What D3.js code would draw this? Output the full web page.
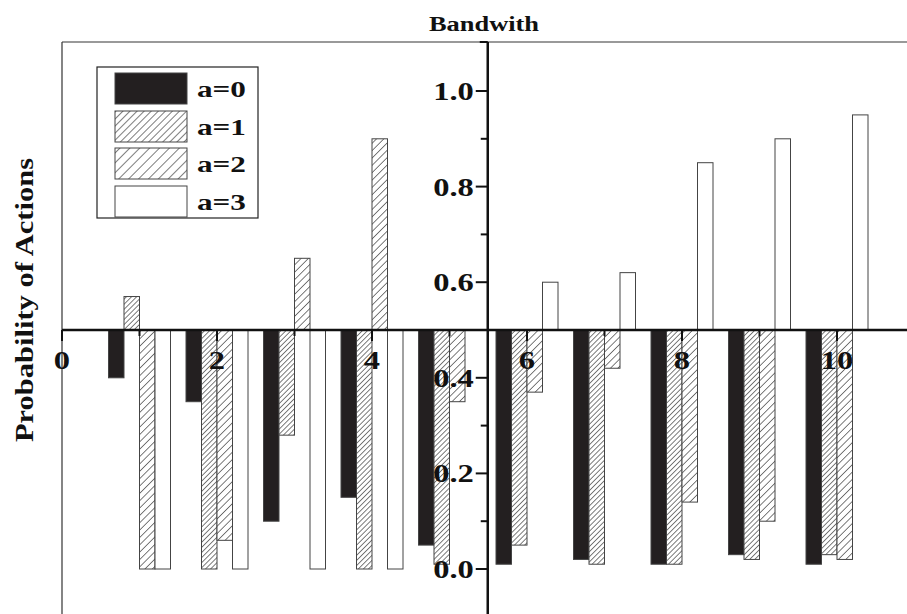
<html>
<script src='https://d3js.org/d3.v7.min.js'></script>
<head>
<style>
  body {margin:0; background:white;}
  svg {display:block; font-family:'Liberation Serif','Times New Roman',serif; font-weight:bold;}
</style>
</head>
<body>
<svg width=907 height=614></svg>
<script>
// bandwidth groups and probabilities of each action
var bandwidth = [1,2,3,4,5,6,7,8,9,10];
var a0 = [0.40,0.35,0.10,0.15,0.05,0.01,0.02,0.01,0.03,0.01];
var a1 = [0.57,0.00,0.28,0.00,0.01,0.05,0.01,0.01,0.02,0.03];
var a2 = [0.00,0.06,0.65,0.90,0.35,0.37,0.42,0.14,0.10,0.02];
var a3 = [0.00,0.00,0.00,0.00,0.50,0.60,0.62,0.85,0.90,0.95];
var actions = ["a=0","a=1","a=2","a=3"];
var series = [a0,a1,a2,a3];
var xTicks = [0,2,4,6,8,10];
var yTicks = [0.0,0.2,0.4,0.6,0.8,1.0];

var svg = d3.select("svg");

var x = d3.scaleLinear().domain([0,10]).range([62,837]);
var y = d3.scaleLinear().domain([0,1]).range([569,91]);
var base = 0.5;   // axes cross here, bars grow from it
var barW = 0.2;
var stretch = 1.25; // the original lettering is wide

//hatch patterns
var defs = svg.append("defs");
function hatch(id, gap) {
  var p = defs.append("pattern")
    .attr("id", id)
    .attr("patternUnits","userSpaceOnUse")
    .attr("width", gap).attr("height", gap)
    .attr("patternTransform","rotate(45)");
  p.append("rect").attr("width",gap).attr("height",gap).attr("fill","white");
  p.append("line").attr("x1",0).attr("y1",0).attr("x2",0).attr("y2",gap)
    .attr("stroke","#111").attr("stroke-width",1.1);
}
hatch("h1", 3.6);
hatch("h2", 5.2);
hatch("lh1", 5);
hatch("lh2", 7);
var fills = ["#231f20","url(#h1)","url(#h2)","white"];
var legendFills = ["#231f20","url(#lh1)","url(#lh2)","white"];

//frame
svg.append("line").attr("x1",62).attr("x2",907).attr("y1",42).attr("y2",42)
  .attr("stroke","#777").attr("stroke-width",1.5);
svg.append("line").attr("x1",62).attr("x2",62).attr("y1",42).attr("y2",614)
  .attr("stroke","#333").attr("stroke-width",1.2);

//bars
series.forEach(function(vals, k) {
  svg.append("g").selectAll("rect").data(vals).enter().append("rect")
    .attr("x", function(d,i) { return x(bandwidth[i] - 0.4 + k*barW); })
    .attr("width", x(barW) - x(0))
    .attr("y", function(d) { return y(Math.max(d, base)); })
    .attr("height", function(d) { return Math.abs(y(d) - y(base)); })
    .attr("fill", fills[k])
    .attr("stroke", "#444")
    .attr("stroke-width", 1);
});

//x axis through 0.5
var xaxis = svg.append("g").attr("transform","translate(0,"+y(base)+")");
xaxis.append("line").attr("x1",62).attr("x2",907).attr("y1",0).attr("y2",0)
  .attr("stroke","#111").attr("stroke-width",2.5);
xaxis.selectAll(".maj").data(xTicks).enter().append("line")
  .attr("x1",function(d){return x(d);}).attr("x2",function(d){return x(d);})
  .attr("y1",0).attr("y2",11).attr("stroke","#111").attr("stroke-width",2);
xaxis.selectAll(".min").data([1,3,5,7,9]).enter().append("line")
  .attr("x1",function(d){return x(d);}).attr("x2",function(d){return x(d);})
  .attr("y1",0).attr("y2",6).attr("stroke","#111").attr("stroke-width",2);
xaxis.selectAll("text").data(xTicks).enter().append("text")
  .attr("transform",function(d){return "translate("+x(d)+",39) scale("+stretch+",1)";})
  .attr("text-anchor","middle").attr("font-size",26).attr("fill","#111")
  .text(function(d){return d;});

//y axis at x = 5.5
var yaxis = svg.append("g").attr("transform","translate("+(x(5.5)-0.5)+",0)");
yaxis.append("line").attr("x1",0).attr("x2",0).attr("y1",42).attr("y2",614)
  .attr("stroke","#111").attr("stroke-width",2.5);
yaxis.append("line").attr("x1",-8).attr("x2",0).attr("y1",42).attr("y2",42)
  .attr("stroke","#111").attr("stroke-width",2);
yaxis.selectAll(".maj").data(yTicks).enter().append("line")
  .attr("x1",-12).attr("x2",0)
  .attr("y1",function(d){return y(d);}).attr("y2",function(d){return y(d);})
  .attr("stroke","#111").attr("stroke-width",2);
yaxis.selectAll(".min").data([0.1,0.3,0.5,0.7,0.9]).enter().append("line")
  .attr("x1",-7).attr("x2",0)
  .attr("y1",function(d){return y(d);}).attr("y2",function(d){return y(d);})
  .attr("stroke","#111").attr("stroke-width",2);
yaxis.selectAll("text").data(yTicks).enter().append("text")
  .attr("transform",function(d){return "translate(-14,"+(y(d)+9)+") scale("+stretch+",1)";})
  .attr("text-anchor","end").attr("font-size",26).attr("fill","#111")
  .text(function(d){return d3.format(".1f")(d);});

//titles
svg.append("text").attr("transform","translate(484,31) scale(1.2,1)").attr("text-anchor","middle")
  .attr("font-size",22).attr("fill","#111").text("Bandwith");
svg.append("text").attr("transform","translate(33,300) rotate(-90) scale(1.22,1)")
  .attr("text-anchor","middle").attr("font-size",25).attr("fill","#111")
  .text("Probability of Actions");

//legend
var legend = svg.append("g");
legend.append("rect").attr("x",97).attr("y",67).attr("width",161).attr("height",151)
  .attr("fill","white").attr("stroke","#222").attr("stroke-width",1.2);
var ly = [73,111,148,186];
actions.forEach(function(a,k) {
  legend.append("rect").attr("x",115).attr("y",ly[k]).attr("width",72).attr("height",31)
    .attr("fill",legendFills[k]).attr("stroke","#444").attr("stroke-width",1);
  legend.append("text").attr("transform","translate(197,"+(ly[k]+24)+") scale(1.3,1)")
    .attr("font-size",24).attr("fill","#111").text(a);
});
</script>
</body>
</html>
